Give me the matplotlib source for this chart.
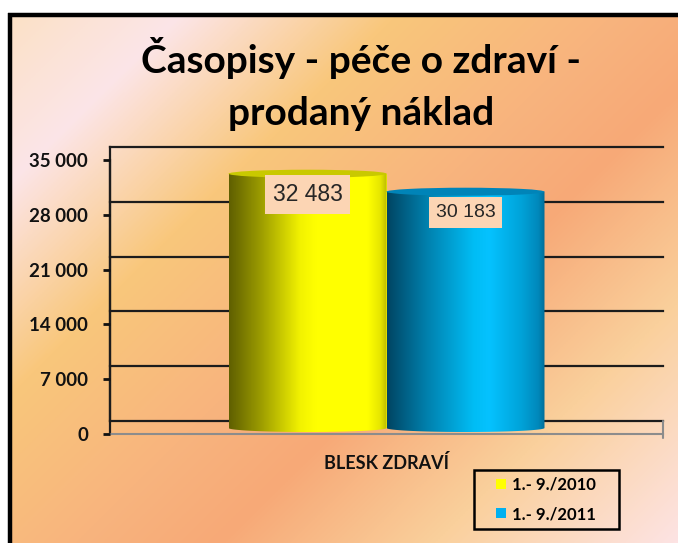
import numpy as np
import matplotlib
matplotlib.use('Agg')
import matplotlib.pyplot as plt
from matplotlib.colors import LinearSegmentedColormap
from matplotlib.patches import Ellipse, PathPatch, Patch, Rectangle
from matplotlib.path import Path
import matplotlib.transforms as mtransforms

# ---------------- data ----------------
title = "Časopisy - péče o zdraví -\nprodaný náklad"
category = "BLESK ZDRAVÍ"
series = ["1.- 9./2010", "1.- 9./2011"]
values = [32483, 30183]
value_labels = ["32 483", "30 183"]
yticks = [0, 7000, 14000, 21000, 28000, 35000]
ytick_labels = ["0", "7 000", "14 000", "21 000", "28 000", "35 000"]

# ---------------- styles ----------------
W, H, DPI = 678, 543, 100
PT = 72.0 / DPI  # points per pixel
bar_colors = ['#ffff00', '#00b0f0']
top_colors = ['#c9c900', '#0084b8']
cyl_stops = [
    [(0.0, '#5f5f00'), (0.2, '#9c9c00'), (0.45, '#f2f200'), (0.55, '#ffff00'),
     (0.88, '#ffff00'), (0.96, '#e6e600'), (1.0, '#bcbc00')],
    [(0.0, '#004563'), (0.25, '#0080ad'), (0.55, '#00bdf5'), (0.65, '#05c2ff'),
     (0.85, '#00a3d9'), (0.96, '#0088bb'), (1.0, '#006e99')],
]
label_sizes = [16.5, 14]

fig = plt.figure(figsize=(W / DPI, H / DPI), dpi=DPI)
fig.patch.set_facecolor('white')

# background gradient (pixel coordinate axes)
bg = fig.add_axes([0, 0, 1, 1], zorder=-10)
bg_stops = [(0.0, '#fbe1c6'), (0.14, '#fce5e8'), (0.32, '#f9c77b'), (0.5, '#f8b47e'),
            (0.62, '#f7a977'), (0.8, '#fad09c'), (1.0, '#fde3e3')]
bg_cmap = LinearSegmentedColormap.from_list('bg', bg_stops)
xx, yy = np.meshgrid(np.linspace(0, 1, 400), np.linspace(0, 1, 320))
tt = (xx * W + yy * H) / (W + H)
bg.imshow(tt, cmap=bg_cmap, extent=(9, W, H, 15), origin='upper', aspect='auto',
          vmin=0, vmax=1, interpolation='bilinear')
bg.plot([9.5, 9.5], [13, H], color='black', lw=3.2, solid_capstyle='butt')
bg.plot([8, W], [15, 15], color='black', lw=3.2, solid_capstyle='butt')
# legend frame
bg.add_patch(Rectangle((474, 470), 145, 59, facecolor='none', edgecolor='black', lw=1.8))
bg.set_xlim(0, W)
bg.set_ylim(H, 0)
bg.axis('off')

# main axes
ax = fig.add_axes([110 / W, (H - 434) / H, 553 / W, 274 / H])
ax.set_facecolor('none')
for s in ax.spines.values():
    s.set_visible(False)
ax.set_xlim(-0.5, 0.5)
ax.set_ylim(yticks[0], yticks[-1])

back = mtransforms.ScaledTranslation(0, 13 / DPI, fig.dpi_scale_trans)
bar_off = mtransforms.ScaledTranslation(0, 6 / DPI, fig.dpi_scale_trans)
tb = ax.transData + bar_off
ypx = (yticks[-1] - yticks[0]) / 274.0

# back-wall gridlines
for v in yticks:
    ax.plot([-0.5, 0.5], [v, v], color='#1c1c1c', lw=1.6,
            transform=ax.transData + back, clip_on=False, zorder=1)
# left wall edge
ax.plot([-0.5, -0.5], [yticks[0], yticks[-1]], color='#1c1c1c', lw=1.6,
        clip_on=False, zorder=1)
ax.plot([-0.5, -0.5], [yticks[0], yticks[-1]], color='#1c1c1c', lw=1.6,
        transform=ax.transData + back, clip_on=False, zorder=1)
# floor front edge
ax.plot([-0.5, 0.5], [0, 0], color='#8c8c8c', lw=1.5, clip_on=False, zorder=1)
ax.annotate('', xy=(0.5, 0), xytext=(0, 13), textcoords='offset pixels',
            arrowprops=dict(arrowstyle='-', color='#8c8c8c', lw=1.5, shrinkA=0, shrinkB=0))
ax.annotate('', xy=(0.5, 0), xytext=(0, -4), textcoords='offset pixels',
            arrowprops=dict(arrowstyle='-', color='#8c8c8c', lw=1.5, shrinkA=0, shrinkB=0))

# bars (cylinders)
bw = 0.2857
xs = [-bw / 2, bw / 2]
bars = ax.bar(xs, values, width=bw, color=bar_colors, transform=tb, zorder=2)
ell_h = 8 * ypx
grad = np.linspace(0, 1, 256).reshape(1, -1)
for i, rect in enumerate(bars):
    x0 = rect.get_x()
    w = rect.get_width()
    h = rect.get_height()
    xc = x0 + w / 2
    cmap = LinearSegmentedColormap.from_list('c%d' % i, cyl_stops[i])
    th = np.linspace(np.pi, 2 * np.pi, 60)
    verts = [(x0, h), (x0, 0)]
    verts += list(zip(xc + w / 2 * np.cos(th), ell_h / 2 * np.sin(th)))
    verts += [(x0 + w, h), (x0, h)]
    codes = [Path.MOVETO] + [Path.LINETO] * (len(verts) - 2) + [Path.CLOSEPOLY]
    clip = PathPatch(Path(verts, codes), transform=tb, facecolor='none', edgecolor='none')
    ax.add_patch(clip)
    im = ax.imshow(grad, cmap=cmap, extent=(x0, x0 + w, -ell_h, h), transform=tb,
                   aspect='auto', zorder=3, interpolation='bilinear')
    im.set_clip_path(clip)
    ax.add_patch(Ellipse((xc, h), w, ell_h, transform=tb, facecolor=top_colors[i],
                         edgecolor='none', zorder=4))
    ax.annotate(value_labels[i], xy=(xc, h), xycoords=tb, xytext=(0, -21),
                textcoords='offset pixels', ha='center', va='center',
                fontsize=label_sizes[i], family='Liberation Sans', color='#262626',
                zorder=6,
                bbox=dict(boxstyle='square,pad=0.35', fc='#fcd5b4', ec='none'))

ax.set_xlim(-0.5, 0.5)
ax.set_ylim(yticks[0], yticks[-1])
ax.set_aspect('auto')

# ticks
ax.set_yticks(yticks)
ax.set_yticklabels(ytick_labels, fontsize=13.5, fontweight='bold', family='Lato',
                   color='#111111')
ax.tick_params(axis='y', length=7 * PT, width=2 * PT * 1.4, color='#111111',
               pad=15 * PT, direction='out')
ax.set_xticks([0])
ax.set_xticklabels([category], fontsize=13, fontweight='bold', family='Lato',
                   color='#111111')
ax.tick_params(axis='x', length=0, pad=20 * PT)

# title
fig.text(361 / W, 1 - 84 / H, title, ha='center', va='center', fontsize=28,
         fontweight='bold', family='Lato', color='black', linespacing=1.6)

# legend
handles = [Patch(facecolor=c, edgecolor='none') for c in bar_colors]
leg = fig.legend(handles, series, loc='center', bbox_to_anchor=(546 / W, 1 - 499.5 / H),
                 frameon=False,
                 prop=dict(family='Lato', weight='bold', size=12),
                 handlelength=0.6, handleheight=0.6, handletextpad=0.35,
                 labelspacing=0.78, borderpad=0.0)

fig.savefig('out.png', dpi=DPI)
